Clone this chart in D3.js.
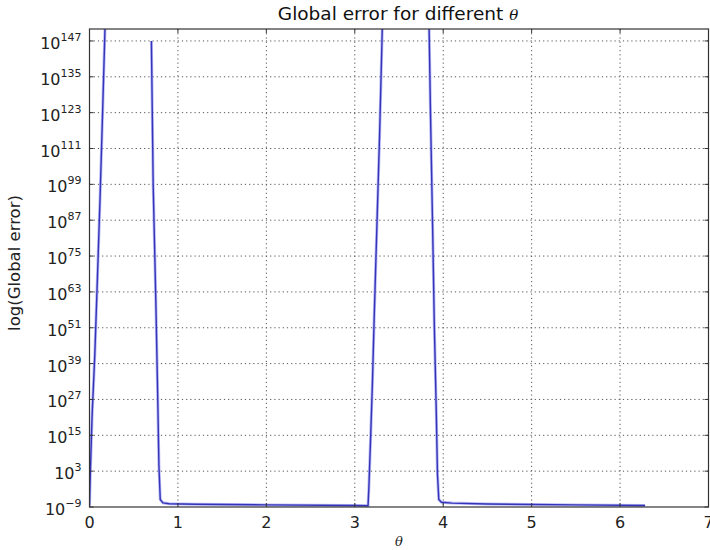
<!DOCTYPE html>
<html>
<head>
<meta charset="utf-8">
<script src="https://cdn.jsdelivr.net/npm/d3@7"></script>
<style>
  body { margin: 0; background: #fff; }
  svg { display: block; font-family: "DejaVu Sans", sans-serif; }
  .grid line { stroke: #555; stroke-dasharray: 1.2,3; stroke-width: 1; }
</style>
</head>
<body>
<svg id="chart" width="710" height="550"></svg>
<script>
// theta values and log10(global error); null = overflow (line break)
const thetas = [
  0, 0.01, 0.03, 0.06, 0.09, 0.12, 0.15, 0.175, 0.19,
  0.40,
  0.70, 0.72, 0.75, 0.77, 0.785, 0.80, 0.83, 0.9, 1.2, 2.0, 3.0, 3.15,
  3.16, 3.18, 3.20, 3.22, 3.25, 3.28, 3.31, 3.33,
  3.60,
  3.84, 3.856, 3.88, 3.90, 3.92, 3.935, 3.95, 3.98, 4.1, 4.5, 5.5, 6.283
];
const logErrors = [
  -8.6, 3, 22, 42, 68, 95, 125, 151, 165,
  null,
  147, 99, 60, 30, 5, -6.5, -7.6, -7.9, -8.1, -8.3, -8.5, -8.6,
  -2, 15, 33, 55, 85, 115, 150, 165,
  null,
  152, 123, 85, 51, 25, 2, -6.5, -7.4, -7.7, -8.0, -8.3, -8.5
];
const xTicks = [0, 1, 2, 3, 4, 5, 6, 7];
const yTickExps = [-9, 3, 15, 27, 39, 51, 63, 75, 87, 99, 111, 123, 135, 147];

const svg = d3.select('#chart');
const margin = { left: 89.5, right: 1.5, top: 29, bottom: 43 };
const W = 710, H = 550;

const x = d3.scaleLinear().domain([0, 7]).range([margin.left, W - margin.right]);
const y = d3.scaleLog().domain([1e-9, 1e151]).range([H - margin.bottom, margin.top]);

const data = thetas.map((t, i) => ({
  t, e: logErrors[i] === null ? null : Math.pow(10, logErrors[i])
}));

svg.append('defs').append('clipPath').attr('id', 'clip')
  .append('rect')
  .attr('x', x(0)).attr('y', y.range()[1])
  .attr('width', x(7) - x(0)).attr('height', y.range()[0] - y.range()[1]);

// grid
const grid = svg.append('g').attr('class', 'grid');
grid.selectAll('line.v').data(xTicks.slice(1, -1)).join('line')
  .attr('x1', d => x(d)).attr('x2', d => x(d))
  .attr('y1', y.range()[1]).attr('y2', y.range()[0]);
grid.selectAll('line.h').data(yTickExps.slice(1)).join('line')
  .attr('x1', x(0)).attr('x2', x(7))
  .attr('y1', d => y(Math.pow(10, d))).attr('y2', d => y(Math.pow(10, d)));

// line
const line = d3.line()
  .defined(d => d.e !== null)
  .x(d => x(d.t))
  .y(d => y(d.e));

const plot = svg.append('g').attr('clip-path', 'url(#clip)');
plot.append('path').datum(data)
  .attr('fill', 'none').attr('stroke', '#8c8cf0').attr('stroke-width', 3)
  .attr('stroke-opacity', 0.6).attr('d', line);
plot.append('path').datum(data)
  .attr('fill', 'none').attr('stroke', '#3434b8').attr('stroke-width', 1.4)
  .attr('stroke-linejoin', 'round').attr('d', line);

// frame
svg.append('rect')
  .attr('x', x(0)).attr('y', y.range()[1])
  .attr('width', x(7) - x(0)).attr('height', y.range()[0] - y.range()[1])
  .attr('fill', 'none').attr('stroke', '#333').attr('stroke-width', 1.2);

// ticks (inward, all four sides)
const tickLen = 4;
const ticks = svg.append('g').attr('stroke', '#333').attr('stroke-width', 1);
xTicks.forEach(d => {
  ticks.append('line').attr('x1', x(d)).attr('x2', x(d))
    .attr('y1', y.range()[0]).attr('y2', y.range()[0] - tickLen);
  ticks.append('line').attr('x1', x(d)).attr('x2', x(d))
    .attr('y1', y.range()[1]).attr('y2', y.range()[1] + tickLen);
});
yTickExps.forEach(d => {
  const yy = y(Math.pow(10, d));
  ticks.append('line').attr('x1', x(0)).attr('x2', x(0) + tickLen).attr('y1', yy).attr('y2', yy);
  ticks.append('line').attr('x1', x(7)).attr('x2', x(7) - tickLen).attr('y1', yy).attr('y2', yy);
});

// x tick labels
svg.append('g').selectAll('text').data(xTicks).join('text')
  .attr('x', d => x(d)).attr('y', y.range()[0] + 21)
  .attr('text-anchor', 'middle').attr('font-size', 16).attr('fill', '#222')
  .text(d => d);

// y tick labels with superscript
const yl = svg.append('g').selectAll('text').data(yTickExps).join('text')
  .attr('x', x(0) - 8).attr('y', d => y(Math.pow(10, d)) + 8)
  .attr('text-anchor', 'end').attr('font-size', 16).attr('fill', '#222');
yl.append('tspan').text('10');
yl.append('tspan').attr('dy', -8).attr('font-size', 11).text(d => d < 0 ? '\u2212' + (-d) : d);

// title
const title = svg.append('text')
  .attr('x', 398).attr('y', 20)
  .attr('text-anchor', 'middle').attr('font-size', 18.5).attr('fill', '#111');
title.append('tspan').text('Global error for different ');
title.append('tspan').attr('font-style', 'italic').attr('font-size', 15)
  .attr('font-family', '"DejaVu Serif", serif').text('\u03b8');

// axis labels
svg.append('text')
  .attr('x', (x(0) + x(7)) / 2).attr('y', 546)
  .attr('text-anchor', 'middle').attr('font-size', 13).attr('font-style', 'italic')
  .attr('font-family', '"DejaVu Serif", serif').attr('fill', '#222')
  .text('\u03b8');

svg.append('text')
  .attr('transform', 'translate(20,263) rotate(-90)')
  .attr('text-anchor', 'middle').attr('font-size', 16.5).attr('fill', '#222')
  .text('log(Global error)');
</script>
</body>
</html>
